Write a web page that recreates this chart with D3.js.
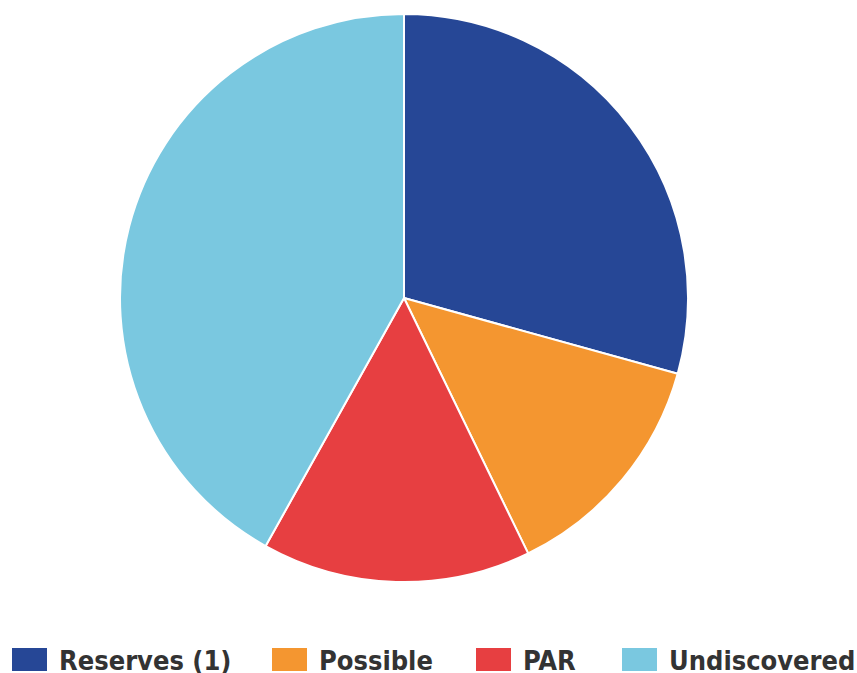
<!DOCTYPE html>
<html>
<head>
<meta charset="utf-8">
<script src="https://cdn.jsdelivr.net/npm/d3@7"></script>
<style>
  html, body { margin: 0; padding: 0; background: #ffffff; }
  svg { display: block; }
</style>
</head>
<body>
<svg id="chart" width="857" height="673"></svg>
<script>
// Resource breakdown (share of total, %)
const categories = ["Reserves (1)", "Possible", "PAR", "Undiscovered"];
const shares = [29.3, 13.5, 15.3, 41.9];
const colors = ["#264796", "#f49630", "#e73f41", "#7ac8e0"];

const svg = d3.select("#chart");
const cx = 404, cy = 298, radius = 284;

const data = categories.map((c, i) => ({ name: c, value: shares[i], color: colors[i] }));

const pie = d3.pie().value(d => d.value).sort(null);
const arc = d3.arc().innerRadius(0).outerRadius(radius);

svg.append("g")
  .attr("transform", `translate(${cx},${cy})`)
  .selectAll("path")
  .data(pie(data))
  .join("path")
  .attr("d", arc)
  .attr("fill", d => d.data.color)
  .attr("stroke", "#ffffff")
  .attr("stroke-width", 2)
  .attr("stroke-linejoin", "round");

// Legend along the bottom, one slot per category
const slotX = [12, 272, 476, 622];
const legend = svg.append("g").attr("transform", "translate(0,648)");
data.forEach((d, i) => {
  const item = legend.append("g").attr("transform", `translate(${slotX[i]},0)`);
  item.append("rect")
    .attr("width", 35).attr("height", 23)
    .attr("fill", d.color);
  item.append("text")
    .attr("x", 47).attr("y", 22)
    .attr("font-family", "'DejaVu Sans Condensed', 'DejaVu Sans', sans-serif")
    .attr("font-stretch", "condensed")
    .attr("font-weight", "bold")
    .attr("font-size", 27)
    .attr("fill", "#333333")
    .text(d.name);
});
</script>
</body>
</html>
